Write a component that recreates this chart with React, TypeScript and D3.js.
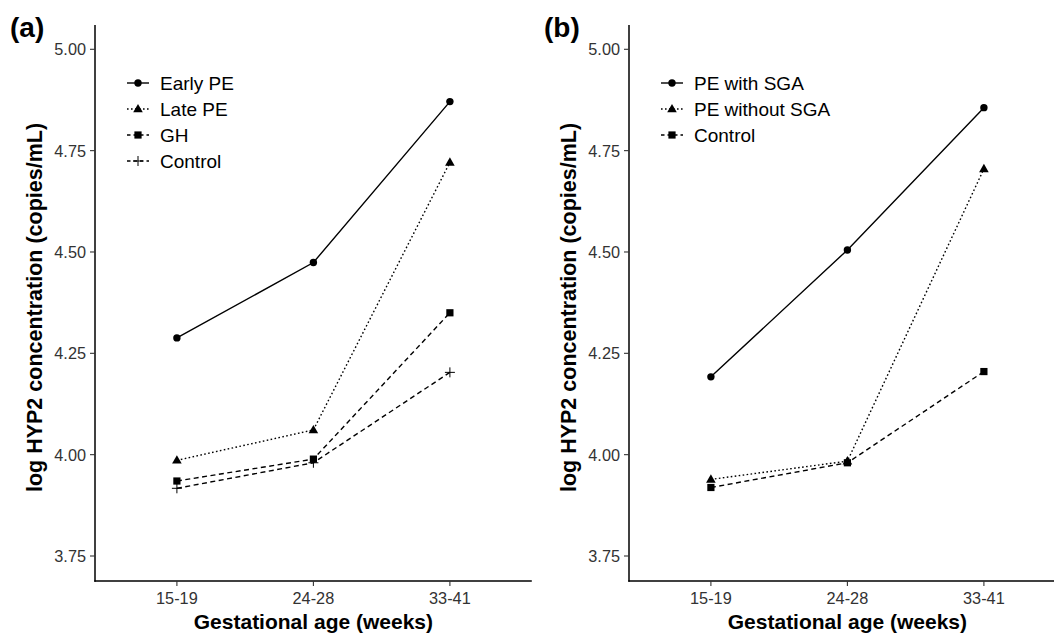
import React from "react";
import * as d3 from "d3";

const categories = ["15-19", "24-28", "33-41"];
const yTicks = [3.75, 4.0, 4.25, 4.5, 4.75, 5.0];

// Panel (a)
const earlyPE = [4.288, 4.474, 4.871];
const latePE = [3.986, 4.061, 4.721];
const gh = [3.935, 3.989, 4.35];
const controlA = [3.917, 3.98, 4.203];

// Panel (b)
const peWithSGA = [4.192, 4.505, 4.856];
const peWithoutSGA = [3.939, 3.984, 4.705];
const controlB = [3.919, 3.98, 4.205];

type Series = { name: string; values: number[]; dash: string; shape: string };

const DOT = "1.6 2.4";
const DASH = "5 3.5";

const seriesA: Series[] = [
  { name: "Early PE", values: earlyPE, dash: "none", shape: "circle" },
  { name: "Late PE", values: latePE, dash: DOT, shape: "triangle" },
  { name: "GH", values: gh, dash: DASH, shape: "square" },
  { name: "Control", values: controlA, dash: DASH, shape: "plus" },
];
const seriesB: Series[] = [
  { name: "PE with SGA", values: peWithSGA, dash: "none", shape: "circle" },
  { name: "PE without SGA", values: peWithoutSGA, dash: DOT, shape: "triangle" },
  { name: "Control", values: controlB, dash: DASH, shape: "square" },
];

const FONT = "Liberation Sans, Arial, Helvetica, sans-serif";

function Marker({ shape, x, y }: { shape: string; x: number; y: number }) {
  if (shape === "circle") return <circle cx={x} cy={y} r={3.7} fill="#000" />;
  if (shape === "triangle") {
    const p = d3.symbol().type(d3.symbolTriangle).size(40)();
    return <path d={p || ""} transform={`translate(${x},${y + 0.5})`} fill="#000" />;
  }
  if (shape === "square") return <rect x={x - 3.6} y={y - 3.6} width={7.2} height={7.2} fill="#000" />;
  return (
    <g stroke="#000" strokeWidth={1}>
      <line x1={x - 5} x2={x + 5} y1={y} y2={y} />
      <line x1={x} x2={x} y1={y - 5} y2={y + 5} />
    </g>
  );
}

function Panel({
  left,
  label,
  series,
  legendKeyX,
}: {
  left: number;
  label: string;
  series: Series[];
  legendKeyX: number;
}) {
  const top = 25;
  const bottom = 581;
  const step = 136.5;
  const x = d3
    .scalePoint<string>()
    .domain(categories)
    .range([left + 0.6 * step, left + 2.6 * step]);
  const right = left + 3.2 * step;
  const y = d3.scaleLinear().domain([3.75, 5.0]).range([556, 49.3]);
  const line = d3
    .line<number>()
    .x((_, i) => x(categories[i]) as number)
    .y((v) => y(v));

  return (
    <g fontFamily={FONT}>
      <text x={left - 85} y={37} fontSize={28} fontWeight="bold" fill="#000">
        {label}
      </text>
      {/* axes */}
      <line x1={left} x2={left} y1={top} y2={bottom + 0.7} stroke="#000" strokeWidth={1.5} />
      <line x1={left - 0.7} x2={right} y1={bottom} y2={bottom} stroke="#000" strokeWidth={1.5} />
      {yTicks.map((t) => (
        <g key={t}>
          <line x1={left - 5} x2={left} y1={y(t)} y2={y(t)} stroke="#333" strokeWidth={1.1} />
          <text
            x={left - 9}
            y={y(t)}
            dy="0.36em"
            textAnchor="end"
            fontSize={16.3}
            fill="#333"
          >
            {t.toFixed(2)}
          </text>
        </g>
      ))}
      {categories.map((c) => (
        <g key={c}>
          <line x1={x(c)} x2={x(c)} y1={bottom} y2={bottom + 5} stroke="#333" strokeWidth={1.1} />
          <text x={x(c)} y={bottom + 17} dy="0.36em" textAnchor="middle" fontSize={16.3} fill="#333">
            {c}
          </text>
        </g>
      ))}
      <text
        x={(left + right) / 2}
        y={628.5}
        textAnchor="middle"
        fontSize={21}
        fontWeight="bold"
        fill="#000"
      >
        Gestational age (weeks)
      </text>
      <text
        transform={`translate(${left - 53},307.5) rotate(-90)`}
        textAnchor="middle"
        fontSize={21.5}
        fontWeight="bold"
        fill="#000"
      >
        log HYP2 concentration (copies/mL)
      </text>
      {/* series */}
      {series.map((s) => (
        <g key={s.name}>
          <path
            d={line(s.values) || ""}
            fill="none"
            stroke="#000"
            strokeWidth={1.4}
            strokeDasharray={s.dash}
          />
          {s.values.map((v, i) => (
            <Marker key={i} shape={s.shape} x={x(categories[i]) as number} y={y(v)} />
          ))}
        </g>
      ))}
      {/* legend */}
      {series.map((s, i) => {
        const ly = 83 + i * 26;
        return (
          <g key={"lg" + s.name}>
            <line
              x1={legendKeyX}
              x2={legendKeyX + 22}
              y1={ly}
              y2={ly}
              stroke="#000"
              strokeWidth={1.4}
              strokeDasharray={s.dash === "none" ? "none" : s.dash === DOT ? DOT : "3.5 3"}
            />
            <Marker shape={s.shape} x={legendKeyX + 11} y={ly} />
            <text x={legendKeyX + 33} y={ly} dy="0.36em" fontSize={19} fill="#000">
              {s.name}
            </text>
          </g>
        );
      })}
    </g>
  );
}

export default function App() {
  return (
    <svg
      width={1054}
      height={635}
      style={{ position: "absolute", left: 0, top: 0, background: "#fff" }}
    >
      <rect width={1054} height={635} fill="#fff" />
      <Panel left={95} label="(a)" series={seriesA} legendKeyX={127} />
      <Panel left={629} label="(b)" series={seriesB} legendKeyX={661} />
    </svg>
  );
}
